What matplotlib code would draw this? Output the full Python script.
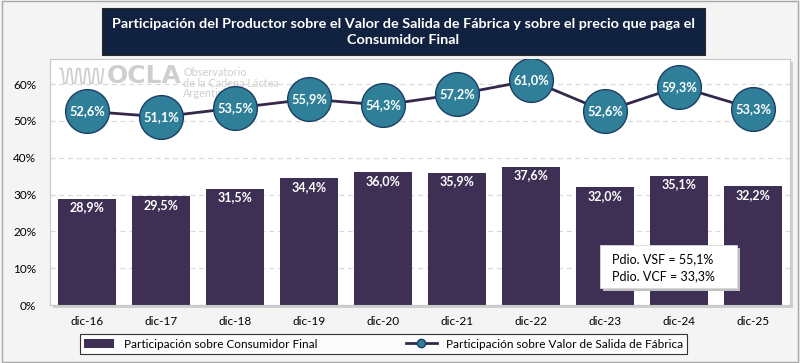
import matplotlib
matplotlib.use("Agg")
import matplotlib.pyplot as plt
from matplotlib.patches import Rectangle
from matplotlib.lines import Line2D
import numpy as np

categories = ["dic-16", "dic-17", "dic-18", "dic-19", "dic-20", "dic-21", "dic-22", "dic-23", "dic-24", "dic-25"]
consumidor_final = [28.9, 29.5, 31.5, 34.4, 36.0, 35.9, 37.6, 32.0, 35.1, 32.2]
salida_fabrica = [52.6, 51.1, 53.5, 55.9, 54.3, 57.2, 61.0, 52.6, 59.3, 53.3]
yticks = [0, 10, 20, 30, 40, 50, 60]
title = "Participación del Productor sobre el Valor de Salida de Fábrica y sobre el precio que paga el\nConsumidor Final"
legend_labels = ["Participación sobre Consumidor Final", "Participación sobre Valor de Salida de Fábrica"]
note_lines = ["Pdio. VSF = 55,1%", "Pdio. VCF = 33,3%"]

def fmt(v):
    return f"{v:.1f}%".replace(".", ",")

plt.rcParams['font.family'] = ['Lato', 'DejaVu Sans']

W, H = 800, 363
fig = plt.figure(figsize=(W / 100, H / 100), dpi=100)
fig.patch.set_facecolor('#f4f4f4')

def fx(px):
    return px / W
def fy(py):
    return 1 - py / H

# outer border
fig.patches.append(Rectangle((0.002, 0.003), 0.996, 0.994, transform=fig.transFigure,
                             fill=False, edgecolor='#a6a6a6', linewidth=1.0, zorder=-2))

# plot area shadow
fig.patches.append(Rectangle((fx(53), fy(308)), fx(790) - fx(50), fy(59) - fy(305),
                             transform=fig.transFigure, facecolor='#cfcfcf', edgecolor='none', zorder=-1))

ax_left, ax_right, ax_top, ax_bottom = 50, 790, 59, 305
ax = fig.add_axes([fx(ax_left), fy(ax_bottom), fx(ax_right) - fx(ax_left), fy(ax_top) - fy(ax_bottom)])
ax.set_zorder(1)
ax.set_facecolor('white')
for s in ax.spines.values():
    s.set_edgecolor('#c8c8c8')
    s.set_linewidth(0.8)

x = np.arange(len(categories))
bar_color = '#3d3054'
ax.bar(x, consumidor_final, width=0.79, color=bar_color, zorder=2)
for xi, v in zip(x, consumidor_final):
    ax.text(xi, v - 2.3, fmt(v), ha='center', va='center', color='white',
            fontsize=9, fontweight='bold', zorder=3)

ax.plot(x, salida_fabrica, color='#35284a', linewidth=2.0, zorder=4)
ax.plot(x, salida_fabrica, linestyle='none', marker='o', markersize=31.5,
        markerfacecolor='#2f7f98', markeredgecolor='#1d3f66', markeredgewidth=1.0, zorder=5)
for xi, v in zip(x, salida_fabrica):
    ax.text(xi, v, fmt(v), ha='center', va='center', color='white',
            fontsize=9.2, fontweight='bold', zorder=6)

ax.set_xlim(-0.5, len(categories) - 0.5)
ax.set_ylim(0, 66.8)
ax.set_yticks(yticks)
ax.set_yticklabels([f"{t}%" for t in yticks], fontsize=8.5)
ax.set_xticks(x)
ax.set_xticklabels(categories, fontsize=8.5)
ax.tick_params(axis='x', length=0, pad=8)
ax.tick_params(axis='y', length=0, pad=10)
ax.grid(axis='y', color='#d9d9d9', linestyle=(0, (4, 3)), linewidth=0.9, zorder=0)
ax.set_axisbelow(True)

# watermark
wm = '#cfcfcf'
ax.text(0.077, 0.931, "OCLA", transform=ax.transAxes, fontsize=18, fontweight='bold',
        family='DejaVu Sans', color=wm, ha='left', va='center', zorder=1)
ax.text(0.180, 0.902, "Observatorio\nde la Cadena Láctea\nArgentina", transform=ax.transAxes,
        fontsize=7.8, color=wm, ha='left', va='center', linespacing=0.95, zorder=1)
wx = np.linspace(0.0135, 0.072, 300)
wy = 0.931 + 0.03 * np.clip(1.6 * np.sin(wx * 2 * np.pi / 0.0118), -1, 1)
ax.plot(wx, wy, transform=ax.transAxes, color=wm, linewidth=1.3, zorder=1)

# note box
nb_x0, nb_y0, nb_x1, nb_y1 = 600, 245, 737, 288
fig.patches.append(Rectangle((fx(nb_x0 + 3), fy(nb_y1 + 3)), fx(nb_x1) - fx(nb_x0), fy(nb_y0) - fy(nb_y1),
                             transform=fig.transFigure, facecolor='#bfbfbf', edgecolor='none', zorder=7))
fig.patches.append(Rectangle((fx(nb_x0), fy(nb_y1)), fx(nb_x1) - fx(nb_x0), fy(nb_y0) - fy(nb_y1),
                             transform=fig.transFigure, facecolor='white', edgecolor='#d9d9d9',
                             linewidth=0.6, zorder=8))
fig.text(fx(nb_x0 + 12), fy(259), note_lines[0], fontsize=9, color='black', va='center', ha='left', zorder=9)
fig.text(fx(nb_x0 + 12), fy(276), note_lines[1], fontsize=9, color='black', va='center', ha='left', zorder=9)

# title box
fig.patches.append(Rectangle((fx(102), fy(55)), fx(705) - fx(102), fy(8) - fy(55),
                             transform=fig.transFigure, facecolor='#10223f', edgecolor='#2b2b2b',
                             linewidth=0.8, zorder=2))
fig.text(fx(403.5), fy(31.5), title, ha='center', va='center', color='white', fontsize=10.4,
         fontweight='bold', linespacing=1.4, zorder=3)

# legend
handles = [Rectangle((0, 0), 1, 1, facecolor=bar_color, edgecolor='none'),
           Line2D([0], [0], color='#35284a', linewidth=2, marker='o', markersize=6,
                  markerfacecolor='#2f7f98', markeredgecolor='#1d3f66')]
leg = fig.legend(handles, legend_labels, loc='center', bbox_to_anchor=(fx(383.5), fy(344)),
                 ncol=2, frameon=True, fontsize=8.5, fancybox=False, edgecolor='black',
                 columnspacing=7.5, handlelength=2.6, borderpad=0.35, borderaxespad=0)
leg.get_frame().set_linewidth(0.8)
leg.get_frame().set_facecolor('white')
leg.set_zorder(10)

fig.savefig("out.png", dpi=100, facecolor=fig.get_facecolor())
